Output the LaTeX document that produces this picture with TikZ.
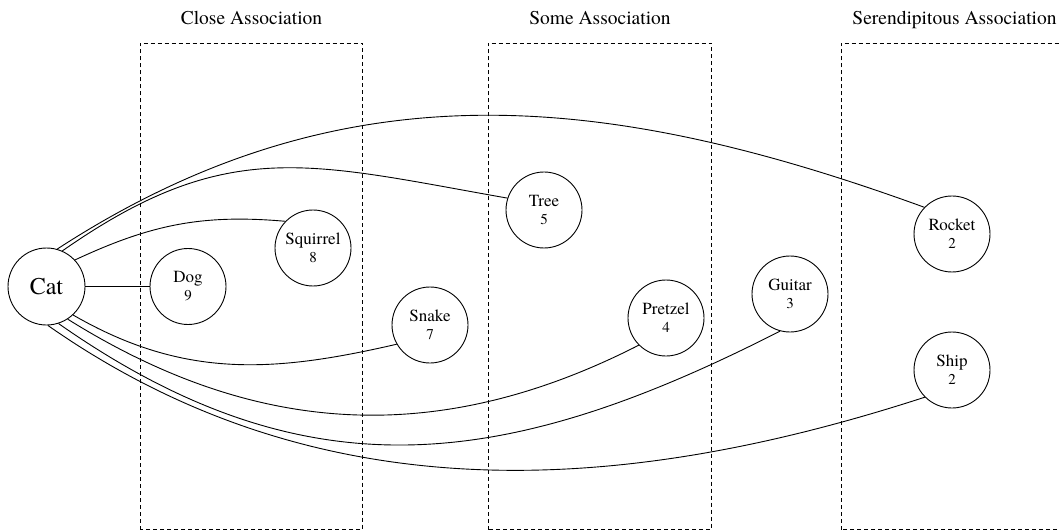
\documentclass[tikz,border=0pt]{standalone}
\usepackage{fontspec}
\newfontfamily\timesfont{texgyretermes-regular.otf}
\begin{document}
\begin{tikzpicture}[x=1pt,y=1pt,
  topic/.style={circle,draw,line width=0.9pt,minimum size=76pt,inner sep=0pt,align=center,font=\timesfont\fontsize{17}{18}\selectfont},
  catnode/.style={topic,minimum size=77pt,font=\timesfont\fontsize{24}{26}\selectfont},
  link/.style={line width=0.9pt},
  assocbox/.style={draw,line width=0.8pt,dash pattern=on 4pt off 3pt},
  boxtitle/.style={anchor=base,font=\timesfont\fontsize{19.5}{22}\selectfont}]
\clip (0,0) rectangle (1060,531);
\useasboundingbox (0,0) rectangle (1060,531);
\newcommand{\num}[1]{{\timesfont\fontsize{15}{18}\selectfont #1}}
% boxes
\draw[assocbox] (140,1.5) rectangle (362,488);
\draw[assocbox] (488,1.5) rectangle (711,488);
\draw[assocbox] (841,1.5) rectangle (1075,488);
% titles
\node[boxtitle] (t1) at (251.5,506) {Close Association};
\node[boxtitle] (t2) at (600,506) {Some Association};
\node[boxtitle] (t3) at (954.5,506) {Serendipitous Association};
% nodes
\node[catnode] (cat) at (46.5,244.5) {Cat};
\node[topic] (dog) at (188,244.5) {Dog\\\num{9}};
\node[topic] (squirrel) at (313,283) {Squirrel\\\num{8}};
\node[topic] (snake) at (430,206) {Snake\\\num{7}};
\node[topic] (tree) at (544,321) {Tree\\\num{5}};
\node[topic] (pretzel) at (666,213) {Pretzel\\\num{4}};
\node[topic] (guitar) at (790,237) {Guitar\\\num{3}};
\node[topic] (rocket) at (952,297) {Rocket\\\num{2}};
\node[topic] (ship) at (952,161) {Ship\\\num{2}};
% links
\draw[link] (cat.0) -- (dog.180);
\draw[link] (cat.43) to[out=25,in=175] (squirrel.136);
\draw[link] (cat.66) to[out=35,in=170,looseness=1.15] (tree.162);
\draw[link] (cat.74) to[out=33,in=160] (rocket.136);
\draw[link] (cat.-47) to[out=-30,in=193] (snake.210);
\draw[link] (cat.-57) to[out=-32,in=207] (pretzel.225);
\draw[link] (cat.-72) to[out=-35,in=207,looseness=1.08] (guitar.255);
\draw[link] (cat.-88) to[out=-35,in=198,looseness=0.95] (ship.225);
\end{tikzpicture}
\end{document}
